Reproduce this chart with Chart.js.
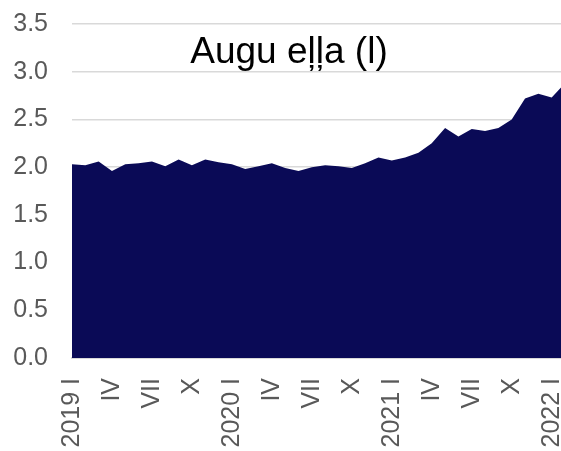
<!DOCTYPE html>
<html>
<head>
<meta charset="utf-8">
<script src="https://cdn.jsdelivr.net/npm/chart.js@4"></script>
<style>
  body { margin: 0; overflow: hidden; background: #fff; }
  #wrap { width: 565px; height: 451px; }
</style>
</head>
<body>
<div id="wrap"><canvas id="mychart"></canvas></div>
<script>
    const virsraksts = 'Augu eļļa (l)'
    const menesi = [
        '2019 I', 'II', 'III', 'IV', 'V', 'VI', 'VII', 'VIII', 'IX', 'X', 'XI', 'XII',
        '2020 I', 'II', 'III', 'IV', 'V', 'VI', 'VII', 'VIII', 'IX', 'X', 'XI', 'XII',
        '2021 I', 'II', 'III', 'IV', 'V', 'VI', 'VII', 'VIII', 'IX', 'X', 'XI', 'XII',
        '2022 I', 'II'
    ]
    const cenas = [
        2.03, 2.02, 2.06, 1.96, 2.03, 2.04, 2.06, 2.01, 2.08, 2.02, 2.08, 2.05,
        2.03, 1.98, 2.01, 2.04, 1.99, 1.96, 2.00, 2.02, 2.01, 1.99, 2.04, 2.10,
        2.07, 2.10, 2.15, 2.25, 2.41, 2.32, 2.40, 2.38, 2.41, 2.50, 2.72, 2.77,
        2.73, 2.88
    ]
    const y_ticks = [0, 0.5, 1.0, 1.5, 2.0, 2.5, 3.0, 3.5]

    const fonts = 'Liberation Sans, Arial, sans-serif'

    // virsraksts iekš grafika laukuma
    const virsrakstaPlugin = {
        id: 'virsraksts',
        afterDraw(chart) {
            const ctx = chart.ctx
            ctx.save()
            ctx.font = '37px ' + fonts
            ctx.fillStyle = '#000'
            ctx.textAlign = 'center'
            ctx.textBaseline = 'alphabetic'
            ctx.fillText(virsraksts, 289, 63)
            ctx.restore()
        }
    }

    const config = {
        type: 'line',
        data: {
            labels: menesi,
            datasets: [{
                data: cenas,
                fill: 'origin',
                backgroundColor: '#0a0a56',
                borderWidth: 0,
                pointRadius: 0,
                tension: 0
            }]
        },
        options: {
            responsive: true,
            maintainAspectRatio: false,
            animation: false,
            layout: { padding: { left: 14, top: 24, right: 0, bottom: 0 } },
            plugins: { legend: { display: false }, tooltip: { enabled: false } },
            scales: {
                x: {
                    offset: false,
                    afterFit: function (axis) {
                        axis.height = 93
                        axis.paddingLeft = 0
                        axis.paddingRight = 0
                    },
                    grid: { display: false, drawTicks: false },
                    border: { display: true, color: '#d9d9d9', width: 2 },
                    ticks: {
                        autoSkip: false,
                        minRotation: 90,
                        maxRotation: 90,
                        padding: 20,
                        color: '#595959',
                        font: { family: fonts, size: 25 },
                        callback: function (val, i) {
                            return i % 3 === 0 ? menesi[i] : null
                        }
                    }
                },
                y: {
                    min: 0,
                    max: 3.5,
                    afterBuildTicks: function (axis) {
                        axis.ticks = y_ticks.map(v => ({ value: v }))
                    },
                    afterFit: function (axis) {
                        axis.width = 58
                        axis.paddingTop = 0
                        axis.paddingBottom = 0
                    },
                    grid: { color: '#d9d9d9', lineWidth: 1.5, drawTicks: false },
                    border: { display: false },
                    ticks: {
                        padding: 24,
                        color: '#595959',
                        font: { family: fonts, size: 25 },
                        callback: v => v.toFixed(1)
                    }
                }
            }
        },
        plugins: [virsrakstaPlugin]
    }

    const myChart = new Chart(document.querySelector('#mychart'), config)
</script>
</body>
</html>
